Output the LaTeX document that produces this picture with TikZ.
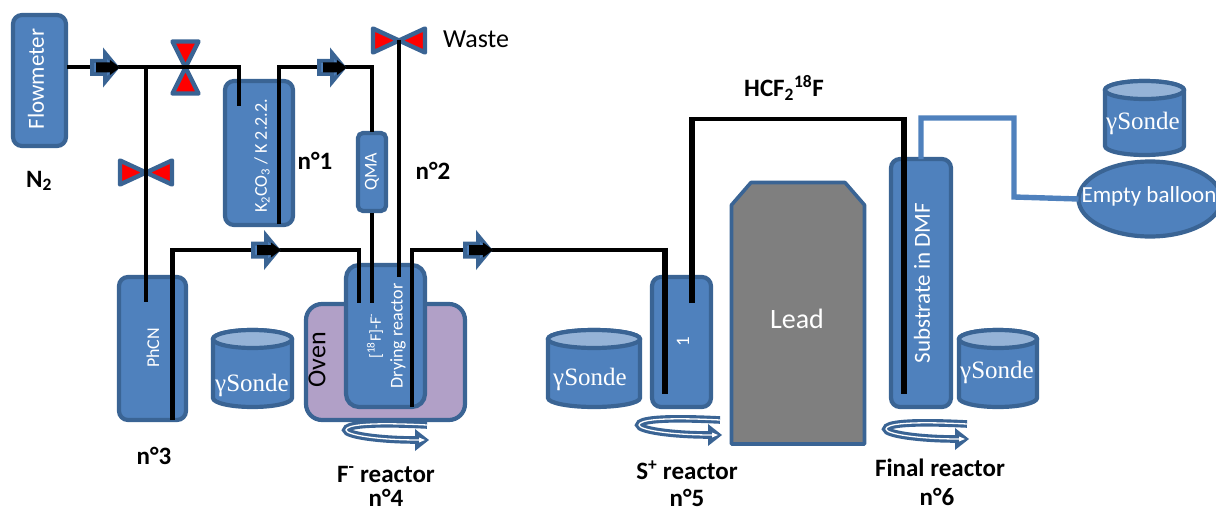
\documentclass[tikz,border=0pt]{standalone}
\usepackage{fontspec}
\setmainfont{Carlito}
\newfontfamily\sondefont{Liberation Serif}
\usetikzlibrary{calc,shapes.geometric}
\definecolor{bluefill}{HTML}{4F81BD}
\definecolor{blueedge}{HTML}{3A6494}
\definecolor{bluelid}{HTML}{95B3D7}
\definecolor{ovenfill}{HTML}{B1A0C7}
\definecolor{valvered}{HTML}{FF0000}
\definecolor{leadgray}{HTML}{7F7F7F}
\tikzset{
  box/.style={draw=blueedge,fill=bluefill,line width=4.2pt,rounded corners=9pt,inner sep=0pt,outer sep=0pt,anchor=north west,minimum width=#1},
  pipe/.style={draw=black,line width=4.2pt,miter limit=10},
  pipeb/.style={draw=black,line width=5.4pt},
  bluepipe/.style={draw=bluefill,line width=5.4pt},
  lbl/.style={text=white,inner sep=0pt,font=\fontsize{#1}{#1}\selectfont},
  rlbl/.style={text=white,inner sep=0pt,rotate=90,font=\fontsize{#1}{#1}\selectfont},
  blbl/.style={text=black,inner sep=0pt,font=\fontsize{25}{25}\selectfont\bfseries},
  sonde/.style={text=white,inner sep=0pt,font=\fontsize{25}{25}\selectfont\sondefont},
  pics/valveh/.style={code={
    \draw[blueedge,fill=valvered,line width=4.4pt,line join=round] (-26,-12)--(0,0)--(-26,12)--cycle;
    \draw[blueedge,fill=valvered,line width=4.4pt,line join=round] (26,-12)--(0,0)--(26,12)--cycle;}},
  pics/valvev/.style={code={
    \draw[blueedge,fill=valvered,line width=4.4pt,line join=round] (-13,-26)--(0,0)--(13,-26)--cycle;
    \draw[blueedge,fill=valvered,line width=4.4pt,line join=round] (-13,26)--(0,0)--(13,26)--cycle;}},
  pics/flowarrow/.style={code={
    \draw[blueedge,fill=bluefill,line width=4pt,line join=miter]
      (-13,-6.5)--(0,-6.5)--(0,-14.5)--(12,0)--(0,14.5)--(0,6.5)--(-13,6.5)--cycle;
    \fill[black] (-9,-5)--(5,-5)--(5,-7.5)--(15,0)--(5,7.5)--(5,5)--(-9,5)--cycle;}},
  pics/spin/.style={code={
    \draw[blueedge,line width=7.6pt] (84,4) .. controls (25,1) and (3,4) .. (3,9) .. controls (3,14) and (35,19) .. (74,19);
    \fill[blueedge] (72,8)--(86,19)--(72,30)--cycle;
    \draw[white,line width=1.3pt] (84,4) .. controls (25,1) and (3,4) .. (3,9) .. controls (3,14) and (35,19) .. (76,19);
    \fill[white] (76,16.5)--(82,19)--(76,21.5)--cycle;}},
}
\newcommand{\drumshape}[5]{% name, x1, x2, y1, y2
  \draw[blueedge,fill=bluefill,line width=4.2pt]
    (#2,#4+9) -- (#2,#5-9) arc[start angle=180,end angle=0,x radius={(#3-#2)/2},y radius=9]
    -- (#3,#4+9) arc[start angle=0,end angle=-180,x radius={(#3-#2)/2},y radius=9] -- cycle;
  \draw[blueedge,fill=bluelid,line width=4.2pt] ({(#2+#3)/2},#4+9) ellipse[x radius={(#3-#2)/2},y radius=9];
  \coordinate (#1) at ({(#2+#3)/2},{(#4+#5)/2});
}
\begin{document}
\begin{tikzpicture}[x=1pt,y=-1pt]
\useasboundingbox (0,0) rectangle (1216,511);
% boxes
\node[box=53pt,minimum height=131pt] (flow) at (13,15) {};
\node[box=68pt,minimum height=144pt] (kco) at (225,81) {};
\node[box=28pt,minimum height=78pt,rounded corners=5pt] (qma) at (358,133) {};
\node[box=67pt,minimum height=143pt] (phcn) at (119,277) {};
\node[box=159pt,minimum height=116pt,rounded corners=16pt,fill=ovenfill] (oven) at (306,304) {};
\node[box=79pt,minimum height=142pt,rounded corners=13pt] (dry) at (346,265) {};
\node[box=59pt,minimum height=130pt] (one) at (652,277) {};
\node[box=60pt,minimum height=248pt] (subs) at (891,159) {};
\draw[blueedge,fill=leadgray,line width=3.6pt,line join=round]
  (731.5,205)--(751,182.5)--(845,182.5)--(864.5,205)--(864.5,444)--(731.5,444)--cycle;
\coordinate (leadc) at (797,319);
% detector drums
\drumshape{sa}{213}{292}{330}{407}
\drumshape{sb}{548}{640}{330}{407}
\drumshape{sc}{959}{1037}{330}{407}
\drumshape{sd}{1105}{1184}{81}{155}
\node[draw=blueedge,fill=bluefill,line width=4.2pt,ellipse,outer sep=0pt,minimum width=143pt,minimum height=75pt,inner sep=0pt] (bal) at (1150,199) {};
% valves
\pic (v1) at (185.5,67.5) {valvev};
\pic (v2) at (146,172.5) {valveh};
\pic (v3) at (399,40.5) {valveh};
% named pipe points
\coordinate (p1s) at (67,67);
\coordinate (p1a) at (239,67);
\coordinate (p1b) at (239,106);
\coordinate (p2t) at (146,67);
\coordinate (p2b) at (146,302);
\coordinate (p3a) at (279,224);
\coordinate (p3b) at (279,67);
\coordinate (p3c) at (372,67);
\coordinate (p3d) at (372,132);
\coordinate (p4a) at (372,213);
\coordinate (p4b) at (372,303);
\coordinate (p5a) at (399,40);
\coordinate (p5b) at (399,277);
\coordinate (p6a) at (172.5,420);
\coordinate (p6b) at (172.5,250);
\coordinate (p6c) at (359,250);
\coordinate (p6d) at (359,303);
\coordinate (p7a) at (412,407);
\coordinate (p7b) at (412,250);
\coordinate (p7c) at (665,250);
\coordinate (p7e) at (665,247.9);
\coordinate (p7d) at (665,394);
\coordinate (p8a) at (692,303);
\coordinate (p8b) at (692,119);
\coordinate (p8e) at (692,116.9);
\coordinate (p8c) at (904,119);
\coordinate (p8f) at (904,116.9);
\coordinate (p8d) at (904,394);
% pipes
\draw[pipe] (p1s)--(p1a)--(p1b);
\draw[pipe] (p2t)--(p2b);
\draw[pipe] (p3a)--(p3b)--(p3c)--(p3d);
\draw[pipe] (p4a)--(p4b);
\draw[pipe] (p5a)--(p5b);
\draw[pipe] (p6a)--(p6b)--(p6c)--(p6d);
\draw[pipe] (p7a)--(p7b)--(p7c);
\draw[pipeb] (p7e)--(p7d);
\draw[pipeb] (p8a)--(p8e);
\draw[pipe] (p8b)--(p8c);
\draw[pipeb] (p8f)--(p8d);
% blue pipe
\coordinate (b1) at (921,159);
\coordinate (b2) at (921,118);
\coordinate (b3) at (1014,118);
\coordinate (b4) at (1014,197);
\draw[bluepipe] (b1)--(b2)--(b3)--(b4)--(bal.west);
% flow arrows
\pic (a1) at (105,67.5) {flowarrow};
\pic (a2) at (332,67.5) {flowarrow};
\pic (a3) at (266,250) {flowarrow};
\pic (a4) at (478,250) {flowarrow};
% stirring arrows
\pic (s1) at (343,421) {spin};
\pic (s2) at (636,416) {spin};
\pic (s3) at (883,420) {spin};
% inner labels
\node[rlbl=23] (tflow) at (36,79) {Flowmeter};
\node[rlbl=18] (tkco) at (262,156) {K\textsubscript{2}CO\textsubscript{3} / K 2.2.2.};
\node[rlbl=18] (tqma) at (372,172) {QMA};
\node[rlbl=18] (tphcn) at (153,348) {PhCN};
\node[rlbl=16] (tf) at (375,336) {[\textsuperscript{18}F]-F\textsuperscript{-}};
\node[rlbl=18] (tdry) at (398,336) {Drying reactor};
\node[rotate=90,inner sep=0pt,font=\fontsize{26}{26}\selectfont] (toven) at (317,360) {Oven};
\node[rlbl=19] (tone) at (683,342) {1};
\node[rlbl=23] (tsubs) at (922,283) {Substrate in DMF};
\node[lbl=28] (tlead) at (leadc) {Lead};
\node[lbl=23] (tbal) at (1149,196) {Empty balloon};
\node[sonde] (tsa) at (252,385) {γSonde};
\node[sonde] (tsb) at (590,379) {γSonde};
\node[sonde] (tsc) at (997,372) {γSonde};
\node[sonde] (tsd) at (1143,123) {γSonde};
% outer labels
\node[inner sep=0pt,font=\fontsize{26}{26}\selectfont] (twaste) at (476,39) {Waste};
\node[blbl] (tn2) at (39,181) {N\textsubscript{2}};
\node[blbl] (tn1) at (315,161) {n°1};
\node[blbl] (tno2) at (433,171) {n°2};
\node[blbl] (tn3) at (154,456) {n°3};
\node[blbl] (tfr) at (386,474) {F\textsuperscript{-} reactor};
\node[blbl] (tn4) at (386,498) {n°4};
\node[blbl] (tsr) at (687,470) {S\textsuperscript{+} reactor};
\node[blbl] (tn5) at (687,498) {n°5};
\node[blbl] (tfinal) at (940,468) {Final reactor};
\node[blbl] (tn6) at (937,497) {n°6};
\node[blbl] (thcf) at (784,88) {HCF\textsubscript{2}\textsuperscript{18}F};
\end{tikzpicture}
\end{document}
